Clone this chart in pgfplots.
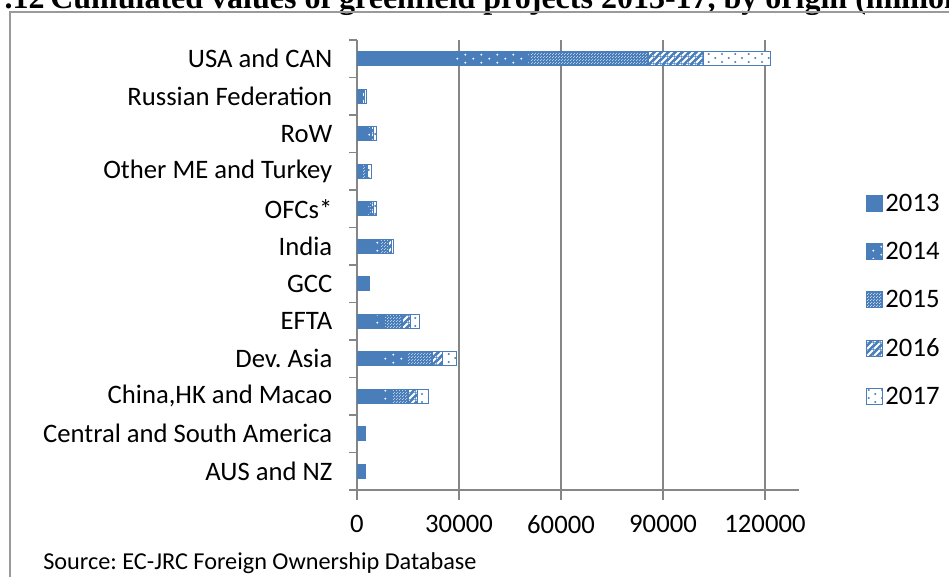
\documentclass[border=0pt]{standalone}
\usepackage{fontspec}
\setmainfont{Carlito}
\newfontfamily\titlefont{Liberation Serif}
\usepackage{pgfplots}
\usepackage{pgfplotstable}
\pgfplotsset{compat=1.18}
\usetikzlibrary{patterns}
\definecolor{myblue}{HTML}{4A7EBB}
\definecolor{gridgray}{HTML}{868686}
\definecolor{boxgray}{HTML}{9A9A9A}

\pgfdeclarepatternformonly{sparsedots}{\pgfpoint{-1pt}{-1pt}}{\pgfpoint{13pt}{7pt}}{\pgfpoint{12pt}{6pt}}{%
  \pgfpathcircle{\pgfpoint{1pt}{1pt}}{0.8pt}\pgfpathcircle{\pgfpoint{7pt}{4pt}}{0.8pt}\pgfusepath{fill}}
\pgfdeclarepatternformonly{finedots}{\pgfpoint{0pt}{0pt}}{\pgfpoint{2.25pt}{2.25pt}}{\pgfpoint{2.25pt}{2.25pt}}{%
  \pgfpathcircle{\pgfpoint{0.5pt}{0.5pt}}{0.45pt}\pgfpathcircle{\pgfpoint{1.625pt}{1.625pt}}{0.45pt}\pgfusepath{fill}}
% wide diagonal stripes drawn as filled polygons (tile 5pt, half width 1.1pt)
\pgfdeclarepatternformonly{widestripes}{\pgfpoint{0pt}{0pt}}{\pgfpoint{5pt}{5pt}}{\pgfpoint{5pt}{5pt}}{%
  \pgfpathmoveto{\pgfpoint{0pt}{0pt}}\pgfpathlineto{\pgfpoint{1.1pt}{0pt}}%
  \pgfpathlineto{\pgfpoint{5pt}{3.9pt}}\pgfpathlineto{\pgfpoint{5pt}{5pt}}%
  \pgfpathlineto{\pgfpoint{3.9pt}{5pt}}\pgfpathlineto{\pgfpoint{0pt}{1.1pt}}\pgfpathclose
  \pgfpathmoveto{\pgfpoint{3.9pt}{0pt}}\pgfpathlineto{\pgfpoint{5pt}{0pt}}\pgfpathlineto{\pgfpoint{5pt}{1.1pt}}\pgfpathclose
  \pgfpathmoveto{\pgfpoint{0pt}{3.9pt}}\pgfpathlineto{\pgfpoint{0pt}{5pt}}\pgfpathlineto{\pgfpoint{1.1pt}{5pt}}\pgfpathclose
  \pgfusepath{fill}}
\pgfdeclarepatternformonly{bigdots}{\pgfpoint{-1pt}{-1pt}}{\pgfpoint{11pt}{7pt}}{\pgfpoint{10pt}{6pt}}{%
  \pgfpathcircle{\pgfpoint{1.5pt}{1.5pt}}{0.85pt}\pgfpathcircle{\pgfpoint{6.5pt}{4.5pt}}{0.85pt}\pgfusepath{fill}}

\pgfplotstableread{
y   a     b     c     d     e
0   2200  100   50    50    100
1   2200  100   50    50    100
2   6300  4200  4700  2600  3300
3   6900  7800  7400  2900  4200
4   4900  3100  5200  2500  2700
5   2300  1000  100   50    100
6   5400  1500  2400  700   800
7   2700  800   700   500   900
8   900   300   1500  300   1300
9   2800  1200  300   400   900
10  1300  200   100   400   800
11  27600 23000 35000 16100 19800
}\data

\begin{document}
\frenchspacing
\begin{tikzpicture}
\useasboundingbox (0,0) rectangle (711.75pt,-432pt);
\clip (0,0) rectangle (711.75pt,-432pt);
\node[anchor=base east, inner sep=0pt, font=\titlefont\bfseries\fontsize{24}{29}\selectfont] at (33.75pt,-6.4pt) {.12};
\node[anchor=base west, inner sep=0pt, font=\titlefont\bfseries\fontsize{24}{29}\selectfont] at (37.5pt,-6.4pt) {Cumulated values of greenfield projects 2013-17, by origin (million EUR)};
\draw[boxgray, line width=1.2pt] (7.5pt,-9pt) rectangle (730pt,-450pt);
\begin{axis}[
  at={(267.75pt,-367.5pt)}, anchor=south west,
  scale only axis, width=331.5pt, height=337.5pt,
  xbar stacked, bar width=10.5pt,
  legend image code/.code={\draw[#1] (0pt,-6pt) rectangle (12pt,6pt);},
  xmin=0, xmax=130000, ymin=-0.5, ymax=11.5,
  xtick={0,30000,60000,90000,120000},
  ytick={0,...,11},
  yticklabels={AUS and NZ, Central and South America, {China,HK and Macao}, Dev. Asia, EFTA, GCC, India, OFCs*, Other ME and Turkey, RoW, Russian Federation, USA and CAN},
  minor ytick={-0.5,0.5,...,11.5},
  axis x line*=bottom, axis y line*=left,
  axis line style={gridgray, line width=0.9pt, -},
  xmajorgrids, major grid style={gridgray, line width=0.9pt},
  tick align=outside, major tick length=7.5pt, minor tick length=6pt,
  tick style={gridgray, line width=0.9pt},
  major y tick style={draw=none},
  scaled x ticks=false,
  xticklabel style={/pgf/number format/fixed, /pgf/number format/precision=0,
    /pgf/number format/1000 sep={}, /pgf/number format/assume math mode=true, yshift=-8pt},
  yticklabel style={xshift=-7.5pt},
  tick label style={font=\fontsize{20}{24}\selectfont, text=black},
  legend style={draw=none, fill=none, at={(1.1516,0.665)}, anchor=north west,
    font=\fontsize{20}{24}\selectfont, row sep=17.6pt, inner sep=0pt, cells={anchor=west},
    /tikz/every even column/.append style={column sep=5.5pt}},
]
\addplot[fill=myblue, draw=myblue] table[x=a,y=y]{\data};
\addplot[fill=myblue, draw=myblue, postaction={pattern=sparsedots, pattern color=white}] table[x=b,y=y]{\data};
\addplot[fill=myblue, draw=myblue, postaction={pattern=finedots, pattern color=white}] table[x=c,y=y]{\data};
\addplot[fill=myblue, draw=myblue, postaction={pattern=widestripes, pattern color=white}] table[x=d,y=y]{\data};
\addplot[fill=white, draw=myblue, postaction={pattern=bigdots, pattern color=myblue}] table[x=e,y=y]{\data};
\legend{2013,2014,2015,2016,2017}
\end{axis}
\node[anchor=base west, inner sep=0pt, font=\fontsize{18.2}{22}\selectfont] at (32.25pt,-426.75pt) {Source: EC-JRC Foreign Ownership Database};
\end{tikzpicture}
\end{document}
